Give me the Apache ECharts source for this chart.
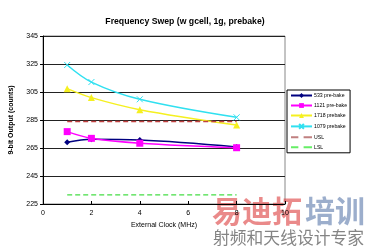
<!DOCTYPE html>
<html><head><meta charset="utf-8">
<script src="https://cdn.jsdelivr.net/npm/echarts@6/dist/echarts.min.js"></script>
<style>html,body{margin:0;padding:0;background:#fff}#c{width:368px;height:247px}</style>
</head><body><div id="c"></div>
<script>
const clockMHz = [1, 2, 4, 8];
const s533 = [269.1, 271.2, 270.7, 265.8];
const s1121 = [276.7, 271.9, 268.4, 265.2];
const s1718 = [307.4, 301.0, 292.4, 281.4];
const s1079 = [324.3, 312.1, 299.8, 286.9];
const uslX = [1, 8];
const usl = [284, 284];
const lslX = [1, 8];
const lsl = [231.5, 231.5];
const seriesNames = ['533 pre-bake', '1121 pre-bake', '1718 prebake', '1079 prebake', 'USL', 'LSL'];
const xTicks = [0, 2, 4, 6, 8, 10];
const yTicks = [225, 245, 265, 285, 305, 325, 345];

const pair = (xs, ys) => xs.map((x, i) => [x, ys[i]]);
const chart = echarts.init(document.getElementById('c'));
const lbl = {fontFamily: 'Liberation Sans', fontSize: 7, color: '#000'};
const dashIcon = 'path://M0,0h7v2h-7zM12,0h8v2h-8z';
chart.setOption({
  animation: false,
  title: {text: 'Frequency Swep (w gcell, 1g, prebake)', left: 180, textAlign: 'center', top: 12,
    textStyle: {fontFamily: 'Liberation Sans', fontSize: 8.7, fontWeight: 'bold', color: '#000'}},
  grid: {left: 36, right: 83, top: 36, bottom: 43, show: true, borderColor: '#888', borderWidth: 1},
  xAxis: {type: 'value', min: xTicks[0], max: xTicks[xTicks.length-1], interval: 2,
    name: 'External Clock (MHz)', nameLocation: 'middle', nameGap: 18,
    nameTextStyle: lbl, axisLabel: Object.assign({margin: 6}, lbl),
    axisLine: {lineStyle: {color: '#000', width: 1}}, axisTick: {inside: true, length: 3, lineStyle: {color: '#000'}},
    splitLine: {show: false}},
  yAxis: {type: 'value', min: yTicks[0], max: yTicks[yTicks.length-1], interval: 20,
    name: '9-bit Output (counts)', nameLocation: 'middle', nameGap: 28, nameRotate: 90,
    nameTextStyle: Object.assign({}, lbl, {fontWeight: 'bold'}), axisLabel: Object.assign({margin: 5}, lbl),
    axisLine: {show: true, lineStyle: {color: '#000', width: 1}}, axisTick: {show: true, length: 3, lineStyle: {color: '#000'}},
    splitLine: {lineStyle: {color: '#222', width: 1}}},
  legend: {orient: 'vertical', left: 287, top: 90, itemWidth: 21, itemHeight: 6, itemGap: 5,
    padding: [3, 3, 3, 3], borderColor: '#000', borderWidth: 1, backgroundColor: '#fff',
    textStyle: {fontFamily: 'Liberation Sans', fontSize: 5.2, color: '#000', padding: [0,0,0,-3]},
    data: [
      {name: seriesNames[0]}, {name: seriesNames[1]}, {name: seriesNames[2]}, {name: seriesNames[3]},
      {name: seriesNames[4], icon: dashIcon, itemStyle: {color: '#c08080'}},
      {name: seriesNames[5], icon: dashIcon, itemStyle: {color: '#66ee66'}}
    ]},
  series: [
    {name: seriesNames[0], type: 'line', data: pair(clockMHz, s533), smooth: 0.35, symbol: 'diamond', symbolSize: 6,
      itemStyle: {color: '#000080'}, lineStyle: {color: '#000080', width: 1.5}},
    {name: seriesNames[1], type: 'line', data: pair(clockMHz, s1121), smooth: 0.35, symbol: 'rect', symbolSize: 7,
      itemStyle: {color: '#ff00ff'}, lineStyle: {color: '#ff00ff', width: 1.5}},
    {name: seriesNames[2], type: 'line', data: pair(clockMHz, s1718), smooth: 0.35, symbol: 'triangle', symbolSize: 7,
      itemStyle: {color: '#f5f020'}, lineStyle: {color: '#f5f020', width: 1.5}},
    {name: seriesNames[3], type: 'line', data: pair(clockMHz, s1079), smooth: 0.35,
      symbol: 'path://M0,0L10,10M10,0L0,10', symbolSize: 6,
      itemStyle: {color: '#30e0f0', borderColor: '#30e0f0', borderWidth: 1}, lineStyle: {color: '#30e0f0', width: 1.5}},
    {name: seriesNames[4], type: 'line', data: pair(uslX, usl), symbol: 'none',
      itemStyle: {color: '#c04040'}, lineStyle: {color: '#c04040', width: 1.5, type: [5, 3]}},
    {name: seriesNames[5], type: 'line', data: pair(lslX, lsl), symbol: 'none',
      itemStyle: {color: '#44dd44'}, lineStyle: {color: '#44dd44', width: 1.2, type: [5, 3]}}
  ],
  graphic: [
    {type: 'text', left: 212, top: 196, style: {text: '易迪拓', font: 'bold 30px "Noto Sans CJK SC"', fill: 'rgba(220,60,60,0.6)'}},
    {type: 'text', left: 305, top: 196, style: {text: '培训', font: 'bold 30px "Noto Sans CJK SC"', fill: 'rgba(90,120,170,0.6)'}},
    {type: 'text', left: 213, top: 229, style: {text: '射频和天线设计专家', font: '16.8px "Noto Sans CJK SC"', fill: 'rgba(110,110,110,0.85)'}}
  ]
});
</script></body></html>
